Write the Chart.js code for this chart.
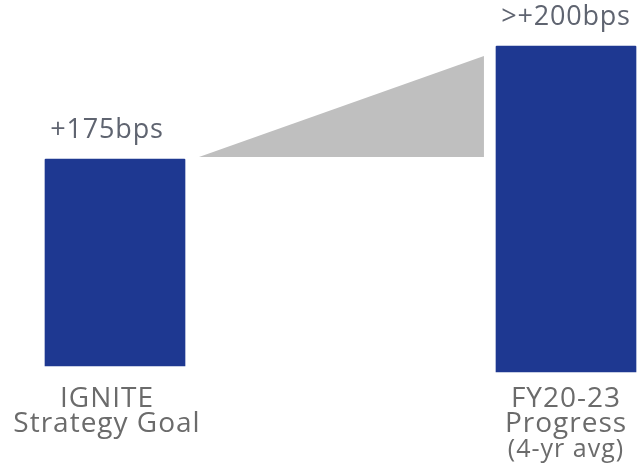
<!DOCTYPE html>
<html>
<head>
<meta charset="utf-8">
<script src="https://cdn.jsdelivr.net/npm/chart.js@4"></script>
<style>
  body { margin: 0; background: #fff; }
  canvas { display: block; }
</style>
</head>
<body>
<canvas id="myChart" width="637" height="469"></canvas>
<script>
const categories = [
  ["IGNITE", "Strategy Goal"],
  ["FY20-23", "Progress", "(4-yr avg)"],
];
const valueLabels = ["+175bps", ">+200bps"];
// bars float: bottom and top (chart units, not to scale in the original slide)
const barLow = [6, 0];
const barHigh = [213, 326];
// grey growth wedge between the bars
const wedgeX = [0.186, 0.818];
const wedgeY = [215, 316];
const wedgeBase = 215;

const navy = "#1e3891";
const font = "'Open Sans', sans-serif";

const labelPlugin = {
  id: "labels",
  afterDatasetsDraw(chart, args, opts) {
    const c = chart.ctx;
    const bars = chart.getDatasetMeta(1).data;
    c.save();
    c.textAlign = "center";
    c.textBaseline = "alphabetic";
    bars.forEach((bar, i) => {
      const x = bar.x + (opts.nudge[i] || 0);
      c.fillStyle = "#5f6470";
      c.font = "27px " + font;
      c.letterSpacing = "0.8px";
      c.fillText(valueLabels[i], x, bar.y - 21);

      const lines = categories[i];
      let y = chart.chartArea.bottom + 35;
      lines.forEach((line) => {
        c.fillStyle = "#6b6b6b";
        const paren = line.startsWith("(");
        c.font = (paren ? "25px " : "28px ") + font;
        c.letterSpacing = "1px";
        c.fillText(line, x, y);
        y += paren ? 26 : 25;
      });
    });
    c.restore();
  },
};

const ctx = document.getElementById("myChart");
new Chart(ctx, {
  data: {
    labels: categories.map((l) => l.join(" ")),
    datasets: [
      {
        type: "line",
        xAxisID: "xw",
        data: wedgeX.map((x, i) => ({ x: x, y: wedgeY[i] })),
        borderWidth: 0,
        pointRadius: 0,
        backgroundColor: "#bfbfbf",
        fill: { value: wedgeBase },
        tension: 0,
      },
      {
        type: "bar",
        data: barLow.map((lo, i) => [lo, barHigh[i]]),
        backgroundColor: navy,
        barThickness: 140,
        grouped: false,
        borderRadius: 1,
        clip: false,
      },
    ],
  },
  options: {
    responsive: false,
    animation: false,
    layout: { padding: { left: 115, right: 71, top: 0, bottom: 97 } },
    plugins: {
      legend: { display: false },
      tooltip: { enabled: false },
      labels: { nudge: [-8, 0] },
    },
    scales: {
      x: { type: "category", offset: false, display: false },
      xw: { type: "linear", min: 0, max: 1, display: false },
      y: { min: 0, max: 372, display: false },
    },
  },
  plugins: [labelPlugin],
});
</script>
</body>
</html>
